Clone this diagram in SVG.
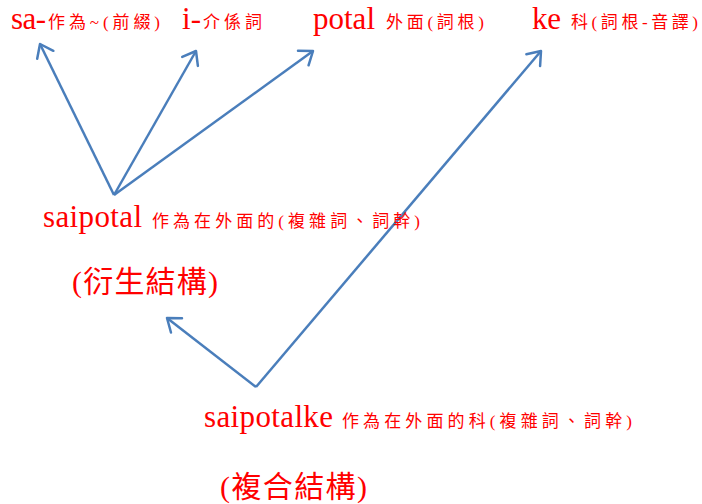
<svg xmlns="http://www.w3.org/2000/svg" width="702" height="504" viewBox="0 0 702 504">
<style>
text{fill:#FF0000;font-family:"Liberation Serif","Noto Sans CJK TC",serif}
.big{font-size:31px}
.sm{font-size:17px}
.lab{font-size:30px}
.conn line{stroke:#4A7EBB;stroke-width:2.5;fill:none;marker-end:url(#arr)}
</style>
<defs>
<marker id="arr" markerUnits="userSpaceOnUse" markerWidth="30" markerHeight="30" refX="15" refY="15" orient="auto" viewBox="0 0 30 30">
<path d="M3,6 L15,15 L3,24" fill="none" stroke="#4A7EBB" stroke-width="2.5" stroke-linecap="round" stroke-linejoin="round"/>
</marker>
</defs>
<rect width="702" height="504" fill="#FFFFFF"/>
<g class="conn" id="connectors">
<line x1="114" y1="195" x2="40" y2="44"/>
<line x1="114" y1="195" x2="196" y2="51"/>
<line x1="114" y1="195" x2="313" y2="51"/>
<line x1="256" y1="387" x2="167" y2="318"/>
<line x1="256" y1="387" x2="541" y2="51"/>
</g>
<g id="sa">
<text class="big" x="11" y="29" textLength="35">sa-</text>
<text class="sm" x="48" y="28" textLength="112">作為~(前綴)</text>
</g>
<g id="i">
<text class="big" x="182" y="29" textLength="19">i-</text>
<text class="sm" x="203" y="28" textLength="59">介係詞</text>
</g>
<g id="potal">
<text class="big" x="313" y="29" textLength="62">potal</text>
<text class="sm" x="386" y="28" textLength="98">外面(詞根)</text>
</g>
<g id="ke">
<text class="big" x="532" y="29" textLength="29">ke</text>
<text class="sm" x="571" y="28" textLength="127">科(詞根-音譯)</text>
</g>
<g id="saipotal">
<text class="big" x="43" y="227" textLength="99">saipotal</text>
<text class="sm" x="152" y="227" textLength="268">作為在外面的(複雜詞、詞幹)</text>
<text class="lab" x="72" y="292" textLength="146">(衍生結構)</text>
</g>
<g id="saipotalke">
<text class="big" x="204" y="427" textLength="129">saipotalke</text>
<text class="sm" x="342" y="427" textLength="290">作為在外面的科(複雜詞、詞幹)</text>
<text class="lab" x="220" y="497" textLength="147">(複合結構)</text>
</g>
</svg>
